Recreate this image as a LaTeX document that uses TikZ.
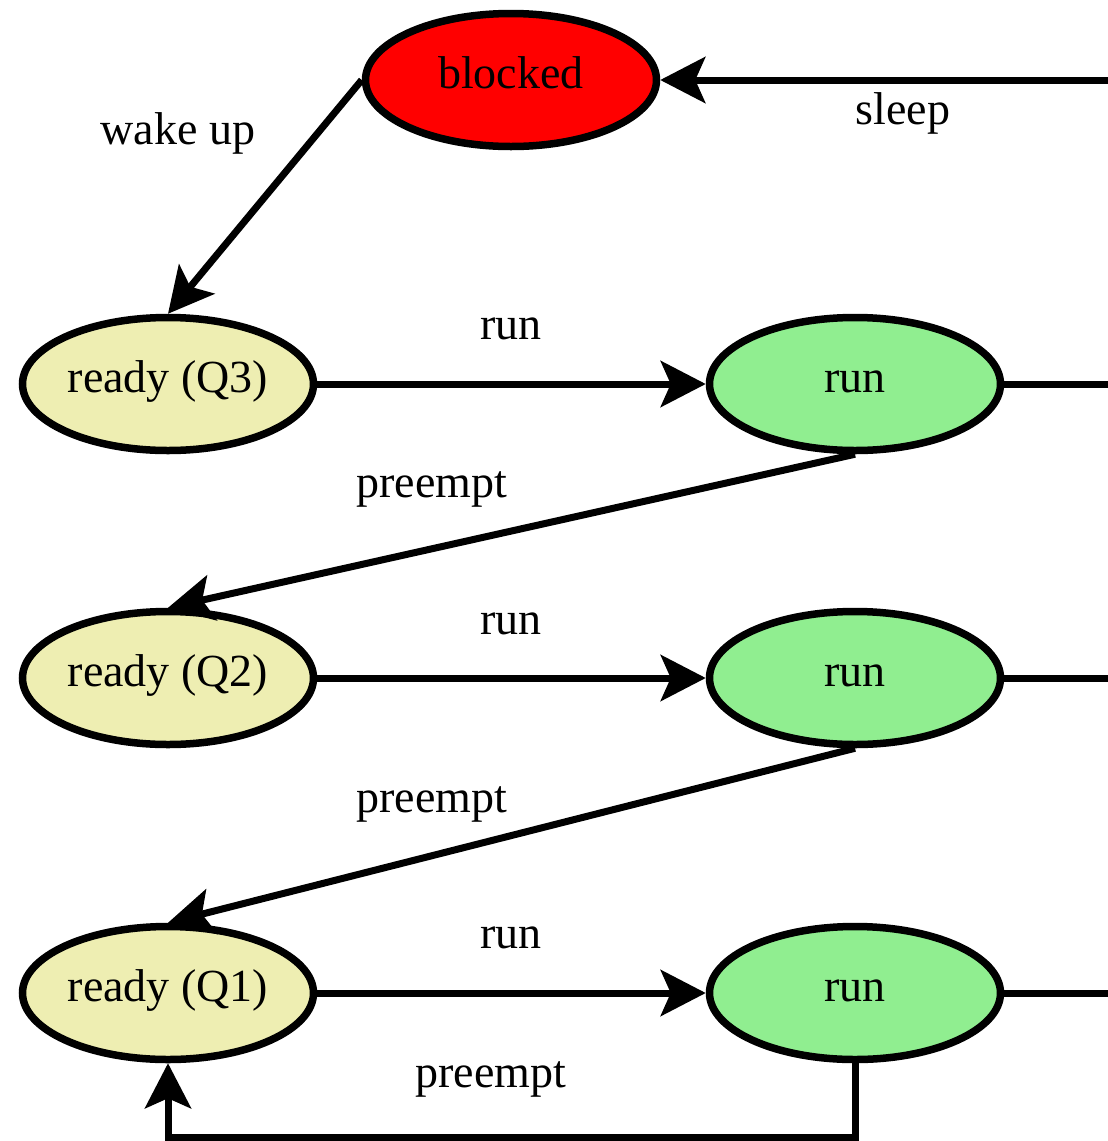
\documentclass[tikz,border=0pt]{standalone}
\usepackage{fontspec}
\setmainfont{Liberation Serif}
\usetikzlibrary{shapes.geometric,arrows.meta}
\definecolor{readyc}{RGB}{238,238,178}
\definecolor{runc}{RGB}{144,238,144}
\begin{document}
\begin{tikzpicture}[x=1pt,y=-1pt,
  every node/.style={font=\fontsize{46}{55}\selectfont},
  st/.style={ellipse,draw,line width=7.5pt,minimum width=291pt,minimum height=133pt,inner sep=0pt,text height=28pt,text depth=12pt},
  rdy/.style={st,fill=readyc},
  rn/.style={st,fill=runc},
  blk/.style={st,fill=red},
  edge/.style={line width=7pt,-{Stealth[length=45pt,width=46pt,inset=10pt]}},
  plain/.style={line width=7pt},
  lbl/.style={anchor=base,inner sep=0pt}]
\useasboundingbox (0,0) rectangle (1108,1141);
\node[blk] (blocked) at (511,80) {blocked};
\node[rdy] (q3) at (168,384) {ready (Q3)};
\node[rn] (r1) at (855,384) {run};
\node[rdy] (q2) at (168,678) {ready (Q2)};
\node[rn] (r2) at (855,678) {run};
\node[rdy] (q1) at (168,993) {ready (Q1)};
\node[rn] (r3) at (855,993) {run};
\coordinate (s0) at (1108,80);
\coordinate (e1) at (1108,384);
\coordinate (e2) at (1108,678);
\coordinate (e3) at (1108,993);
\coordinate (b1) at (855,1137);
\coordinate (b2) at (168,1137);
\draw[edge] (s0) -- (blocked.east);
\draw[edge] (blocked.west) -- (q3.north);
\draw[edge] (q3.east) -- (r1.west);
\draw[plain] (r1.east) -- (e1);
\draw[edge] (r1.south) -- (q2.north);
\draw[edge] (q2.east) -- (r2.west);
\draw[plain] (r2.east) -- (e2);
\draw[edge] (r2.south) -- (q1.north);
\draw[edge] (q1.east) -- (r3.west);
\draw[plain] (r3.east) -- (e3);
\draw[edge] (r3.south) -- (b1) -- (b2) -- (q1.south);
\node[lbl] (lsleep) at (903,124) {sleep};
\node[lbl] (lwake) at (178,144) {wake up};
\node[lbl] (lrun1) at (511,339) {run};
\node[lbl] (lpre1) at (432,497) {preempt};
\node[lbl] (lrun2) at (511,634) {run};
\node[lbl] (lpre2) at (432,812) {preempt};
\node[lbl] (lrun3) at (511,948) {run};
\node[lbl] (lpre3) at (491,1087) {preempt};
\end{tikzpicture}
\end{document}
